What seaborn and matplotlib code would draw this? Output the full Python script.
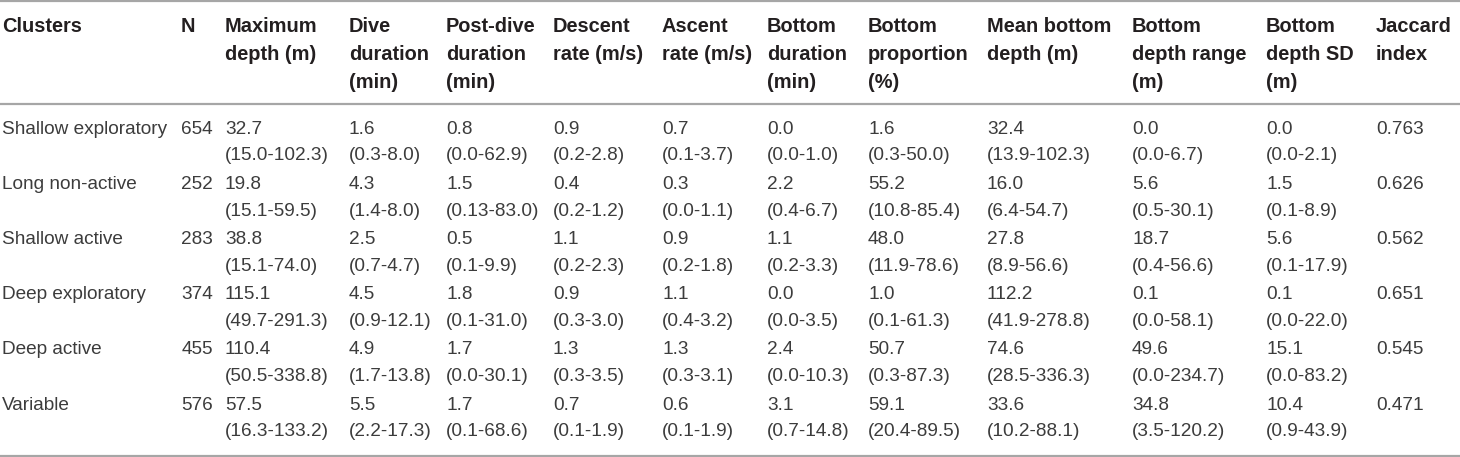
import matplotlib
matplotlib.use("Agg")
import matplotlib.pyplot as plt
import seaborn as sns

# Table data
clusters = ["Shallow exploratory", "Long non-active", "Shallow active",
            "Deep exploratory", "Deep active", "Variable"]
n_dives = [654, 252, 283, 374, 455, 576]

max_depth = ["32.7", "19.8", "38.8", "115.1", "110.4", "57.5"]
max_depth_rng = ["15.0-102.3", "15.1-59.5", "15.1-74.0", "49.7-291.3", "50.5-338.8", "16.3-133.2"]
dive_dur = ["1.6", "4.3", "2.5", "4.5", "4.9", "5.5"]
dive_dur_rng = ["0.3-8.0", "1.4-8.0", "0.7-4.7", "0.9-12.1", "1.7-13.8", "2.2-17.3"]
post_dur = ["0.8", "1.5", "0.5", "1.8", "1.7", "1.7"]
post_dur_rng = ["0.0-62.9", "0.13-83.0", "0.1-9.9", "0.1-31.0", "0.0-30.1", "0.1-68.6"]
descent = ["0.9", "0.4", "1.1", "0.9", "1.3", "0.7"]
descent_rng = ["0.2-2.8", "0.2-1.2", "0.2-2.3", "0.3-3.0", "0.3-3.5", "0.1-1.9"]
ascent = ["0.7", "0.3", "0.9", "1.1", "1.3", "0.6"]
ascent_rng = ["0.1-3.7", "0.0-1.1", "0.2-1.8", "0.4-3.2", "0.3-3.1", "0.1-1.9"]
bot_dur = ["0.0", "2.2", "1.1", "0.0", "2.4", "3.1"]
bot_dur_rng = ["0.0-1.0", "0.4-6.7", "0.2-3.3", "0.0-3.5", "0.0-10.3", "0.7-14.8"]
bot_prop = ["1.6", "55.2", "48.0", "1.0", "50.7", "59.1"]
bot_prop_rng = ["0.3-50.0", "10.8-85.4", "11.9-78.6", "0.1-61.3", "0.3-87.3", "20.4-89.5"]
mean_bot = ["32.4", "16.0", "27.8", "112.2", "74.6", "33.6"]
mean_bot_rng = ["13.9-102.3", "6.4-54.7", "8.9-56.6", "41.9-278.8", "28.5-336.3", "10.2-88.1"]
bot_range = ["0.0", "5.6", "18.7", "0.1", "49.6", "34.8"]
bot_range_rng = ["0.0-6.7", "0.5-30.1", "0.4-56.6", "0.0-58.1", "0.0-234.7", "3.5-120.2"]
bot_sd = ["0.0", "1.5", "5.6", "0.1", "15.1", "10.4"]
bot_sd_rng = ["0.0-2.1", "0.1-8.9", "0.1-17.9", "0.0-22.0", "0.0-83.2", "0.9-43.9"]
jaccard = ["0.763", "0.626", "0.562", "0.651", "0.545", "0.471"]

headers = ["Clusters", "N", "Maximum\ndepth (m)", "Dive\nduration\n(min)",
           "Post-dive\nduration\n(min)", "Descent\nrate (m/s)", "Ascent\nrate (m/s)",
           "Bottom\nduration\n(min)", "Bottom\nproportion\n(%)", "Mean bottom\ndepth (m)",
           "Bottom\ndepth range\n(m)", "Bottom\ndepth SD\n(m)", "Jaccard\nindex"]

stat_cols = [(max_depth, max_depth_rng), (dive_dur, dive_dur_rng), (post_dur, post_dur_rng),
             (descent, descent_rng), (ascent, ascent_rng), (bot_dur, bot_dur_rng),
             (bot_prop, bot_prop_rng), (mean_bot, mean_bot_rng), (bot_range, bot_range_rng),
             (bot_sd, bot_sd_rng), (jaccard, None)]

# layout (pixel coordinates)
col_x = [2, 181, 225, 349, 446, 553, 662, 767, 868, 987, 1132, 1266, 1376]
n_right = 213
head_y0, head_step = 27, 27.5
row_y0, row_step, line_step = 129, 55.2, 27

sns.set_theme(style="white")
plt.rcParams["font.family"] = ["Liberation Sans", "DejaVu Sans"]

fig = plt.figure(figsize=(14.6, 4.57), dpi=100)
ax = fig.add_axes([0, 0, 1, 1])
ax.set_xlim(0, 1460)
ax.set_ylim(457, 0)
ax.axis("off")

fs_body = 13.7
fs_head = 14.4
head_col = "#231f20"
body_col = "#3c3c3c"
rule_col = "#a6a6a6"

# header
for x, h in zip(col_x, headers):
    for i, line in enumerate(h.split("\n")):
        ax.text(x, head_y0 + i * head_step, line, fontsize=fs_head, fontweight="bold",
                color=head_col, va="center", ha="left")

# rules
for y in [1, 104, 455.5]:
    ax.axhline(y, color=rule_col, lw=1.6)

# body
for r, name in enumerate(clusters):
    y = row_y0 + r * row_step
    ax.text(col_x[0], y, name, fontsize=fs_body, color=body_col, va="center", ha="left")
    ax.text(n_right, y, str(n_dives[r]), fontsize=fs_body, color=body_col, va="center", ha="right")
    for x, (vals, rngs) in zip(col_x[2:], stat_cols):
        ax.text(x, y, vals[r], fontsize=fs_body, color=body_col, va="center", ha="left")
        if rngs is not None:
            ax.text(x, y + line_step, "(" + rngs[r] + ")", fontsize=fs_body, color=body_col,
                    va="center", ha="left")

fig.savefig("out.png", dpi=100, facecolor="white")
